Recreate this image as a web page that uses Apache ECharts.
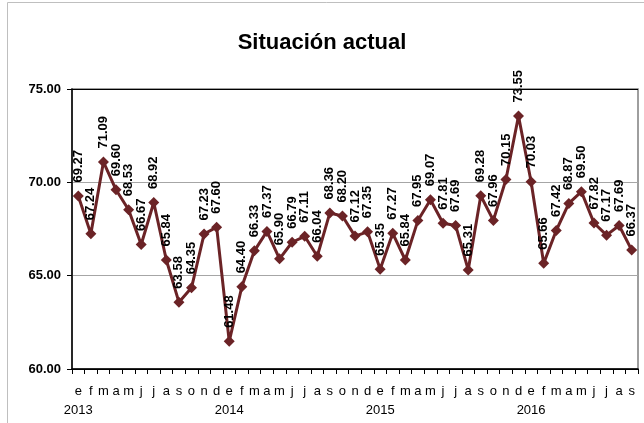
<!DOCTYPE html>
<html>
<head>
<meta charset="utf-8">
<script src="https://cdn.jsdelivr.net/npm/echarts@6/dist/echarts.min.js"></script>
<style>html,body{margin:0;padding:0;background:#fff}#c{width:644px;height:423px}</style>
</head>
<body>
<div id="c"></div>
<script>
var months = ['e','f','m','a','m','j','j','a','s','o','n','d',
              'e','f','m','a','m','j','j','a','s','o','n','d',
              'e','f','m','a','m','j','j','a','s','o','n','d',
              'e','f','m','a','m','j','j','a','s'];
var years = ['2013','','','','','','','','','','','',
             '2014','','','','','','','','','','','',
             '2015','','','','','','','','','','','',
             '2016','','','','','','','',''];
var values = [69.27,67.24,71.09,69.60,68.53,66.67,68.92,65.84,63.58,64.35,67.23,67.60,
              61.48,64.40,66.33,67.37,65.90,66.79,67.11,66.04,68.36,68.20,67.12,67.35,
              65.35,67.27,65.84,67.95,69.07,67.81,67.69,65.31,69.28,67.96,70.15,73.55,
              70.03,65.66,67.42,68.87,69.50,67.82,67.17,67.69,66.37];
var yTicks = [60, 65, 70, 75];
var titleText = 'Situación actual';

var cats = months.map(function(m, i){ return i; });
var narrow = "'Liberation Sans Narrow', 'Arial Narrow', 'Liberation Sans', Arial, sans-serif";
var chart = echarts.init(document.getElementById('c'));
chart.setOption({
  animation: false,
  backgroundColor: '#fff',
  graphic: [{
    type: 'rect', shape: {x: 7.5, y: 2.5, width: 650, height: 440},
    style: {fill: 'none', stroke: '#BFBFBF', lineWidth: 1}, z: -10
  }],
  title: {
    text: titleText, left: 'center', top: 27,
    textStyle: {fontFamily: narrow, fontWeight: 'bold', fontSize: 22, color: '#000'}
  },
  grid: {left: 72, right: 6, top: 89, bottom: 54, show: true, borderColor: '#7F7F7F', borderWidth: 1.5, backgroundColor: 'transparent'},
  xAxis: {
    type: 'category', data: cats, boundaryGap: true,
    axisLine: {lineStyle: {color: '#000', width: 1.5}},
    axisTick: {show: true, interval: 0, length: 5, lineStyle: {color: '#000'}},
    axisLabel: {
      interval: 0, margin: 13, fontFamily: narrow, fontSize: 13, color: '#000', lineHeight: 19,
      formatter: function(v){ var i = +v; return months[i] + '\n' + (years[i] || ' '); }
    },
    splitLine: {show: false}
  },
  yAxis: {
    type: 'value', min: yTicks[0], max: yTicks[yTicks.length-1], interval: 5,
    axisLine: {show: true, lineStyle: {color: '#000', width: 1.5}},
    axisTick: {show: true, length: 5, lineStyle: {color: '#000'}},
    axisLabel: {fontFamily: narrow, fontWeight: 'bold', fontSize: 13, color: '#000', margin: 11,
      formatter: function(v){ return v.toFixed(2); }},
    splitLine: {show: true, lineStyle: {color: ['#000', '#A6A6A6', '#A6A6A6', '#000'], width: 1.2}}
  },
  series: [{
    type: 'line', data: values,
    lineStyle: {color: '#6B2326', width: 3},
    itemStyle: {color: '#6B2326'},
    symbol: 'diamond', symbolSize: 11,
    label: {
      show: true, position: 'top', distance: 8, rotate: 90,
      align: 'left', verticalAlign: 'middle',
      fontFamily: "'Liberation Sans', Arial, sans-serif", fontWeight: 'bold', fontSize: 13, color: '#000',
      formatter: function(p){ return p.value.toFixed(2); }
    }
  }]
});
</script>
</body>
</html>
